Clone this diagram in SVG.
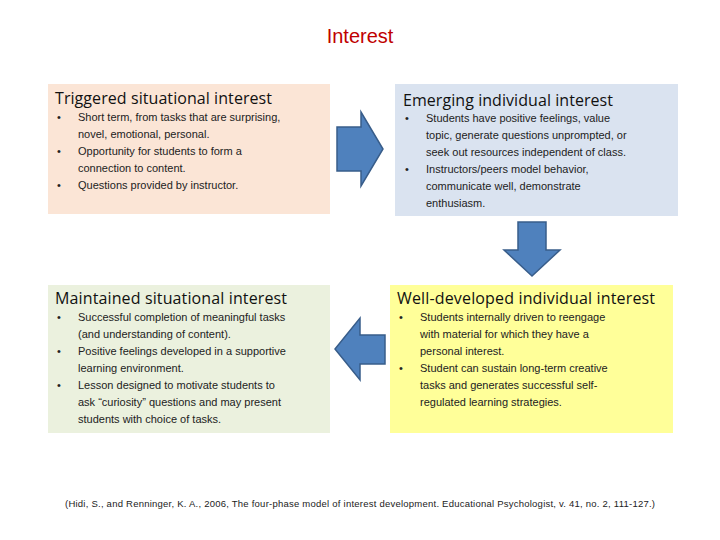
<svg xmlns="http://www.w3.org/2000/svg" width="720" height="540" viewBox="0 0 720 540">
<style>
.t{font-family:"Liberation Sans",Arial,sans-serif;font-size:11px;fill:#222}
.h{font-family:"Open Sans","Liberation Sans",sans-serif;font-size:16px;fill:#111;font-weight:500}
.ar{fill:#4f81bd;stroke:#385d8a;stroke-width:1.5}
</style>
<rect width="720" height="540" fill="#fff"/>
<text x="360" y="43" text-anchor="middle" font-family="'Liberation Sans',Arial,sans-serif" font-size="20" fill="#c00000">Interest</text>
<g id="triggered">
<rect x="48" y="84" width="282" height="130" fill="#fbe5d6"/>
<text class="h" x="55" y="104" textLength="217">Triggered situational interest</text>
<g class="t">
<text x="57" y="121">•</text><text x="78" y="121">Short term, from tasks that are surprising,</text>
<text x="78" y="138">novel, emotional, personal.</text>
<text x="57" y="155">•</text><text x="78" y="155">Opportunity for students to form a</text>
<text x="78" y="172">connection to content.</text>
<text x="57" y="189">•</text><text x="78" y="189">Questions provided by instructor.</text>
</g></g>
<g id="emerging">
<rect x="395" y="84" width="283" height="132" fill="#dae3f0"/>
<text class="h" x="403" y="106" textLength="210">Emerging individual interest</text>
<g class="t">
<text x="405" y="122">•</text><text x="426" y="122">Students have positive feelings, value</text>
<text x="426" y="139">topic, generate questions unprompted,  or</text>
<text x="426" y="156">seek out resources independent of class.</text>
<text x="405" y="173">•</text><text x="426" y="173">Instructors/peers model behavior,</text>
<text x="426" y="190">communicate well, demonstrate</text>
<text x="426" y="207">enthusiasm.</text>
</g></g>
<g id="maintained">
<rect x="48" y="285" width="282" height="148" fill="#ebf1de"/>
<text class="h" x="55" y="304" textLength="232">Maintained situational interest</text>
<g class="t">
<text x="57" y="321">•</text><text x="78" y="321">Successful completion of meaningful tasks</text>
<text x="78" y="338">(and understanding of content).</text>
<text x="57" y="355">•</text><text x="78" y="355">Positive feelings developed in a supportive</text>
<text x="78" y="372">learning environment.</text>
<text x="57" y="389">•</text><text x="78" y="389">Lesson designed to motivate students to</text>
<text x="78" y="406">ask “curiosity” questions and may present</text>
<text x="78" y="423">students with choice of tasks.</text>
</g></g>
<g id="welldeveloped">
<rect x="390" y="285" width="283" height="148" fill="#ffff99"/>
<text class="h" x="397" y="304" textLength="258">Well-developed individual interest</text>
<g class="t">
<text x="399" y="321">•</text><text x="420" y="321">Students internally driven to reengage</text>
<text x="420" y="338">with material for which they have a</text>
<text x="420" y="355">personal interest.</text>
<text x="399" y="372">•</text><text x="420" y="372">Student can sustain long-term creative</text>
<text x="420" y="389">tasks and generates successful self-</text>
<text x="420" y="406">regulated learning strategies.</text>
</g></g>
<g id="connectors">
<polygon class="ar" points="337,127 361,127 361,112 383,149 361,186 361,171 337,171"/>
<polygon class="ar" points="518,222 546,222 546,250 560,250 532,276 504,250 518,250"/>
<polygon class="ar" points="385,335 360,335 360,318 335,349 360,380 360,364 385,364"/>
</g>
<text x="360" y="507" text-anchor="middle" textLength="590" font-family="'Liberation Sans',Arial,sans-serif" font-size="9.5" fill="#222">(Hidi, S., and Renninger, K. A., 2006, The four-phase model of interest development. Educational Psychologist, v. 41, no. 2, 111-127.)</text>
</svg>
